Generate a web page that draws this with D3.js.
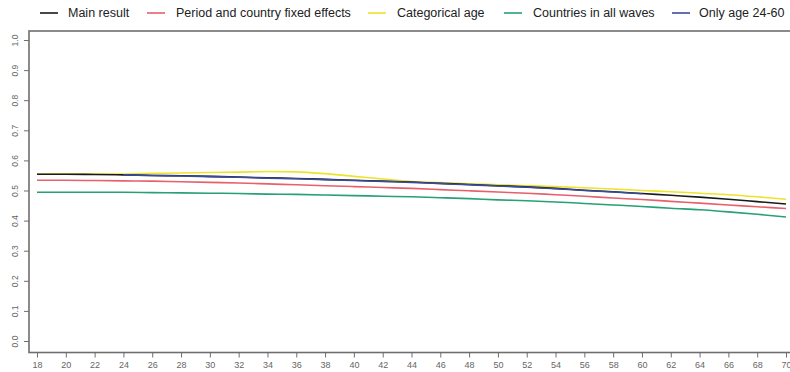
<!DOCTYPE html>
<html>
<head>
<meta charset="utf-8">
<script src="https://cdn.jsdelivr.net/npm/d3@7"></script>
<style>
  html, body { margin: 0; padding: 0; background: #fff; }
  svg { display: block; font-family: "Liberation Sans", Arial, sans-serif; }
</style>
</head>
<body>
<svg id="chart" width="790" height="372"></svg>
<script>
// Predicted probability by age under alternative specifications
const ages = [18, 20, 22, 24, 26, 28, 30, 32, 34, 36, 38, 40, 42, 44, 46, 48, 50, 52, 54, 56, 58, 60, 62, 64, 66, 68, 70];

const mainResult = [0.554, 0.554, 0.553, 0.552, 0.550, 0.549, 0.547, 0.545, 0.542, 0.540, 0.537, 0.534, 0.531, 0.528,
                    0.524, 0.520, 0.516, 0.512, 0.507, 0.501, 0.496, 0.490, 0.484, 0.478, 0.471, 0.463, 0.455];
const periodCountryFE = [0.534, 0.534, 0.533, 0.532, 0.531, 0.529, 0.527, 0.525, 0.522, 0.519, 0.516, 0.513, 0.510, 0.507,
                         0.503, 0.499, 0.495, 0.491, 0.486, 0.481, 0.475, 0.470, 0.464, 0.458, 0.452, 0.446, 0.440];
const categoricalAge = [0.555, 0.555, 0.555, 0.555, 0.557, 0.558, 0.560, 0.561, 0.563, 0.562, 0.556, 0.547, 0.538, 0.530,
                        0.526, 0.522, 0.519, 0.516, 0.513, 0.509, 0.505, 0.500, 0.496, 0.491, 0.486, 0.479, 0.471];
const allWaves = [0.494, 0.494, 0.494, 0.494, 0.493, 0.492, 0.491, 0.490, 0.488, 0.487, 0.485, 0.483, 0.481, 0.479,
                  0.476, 0.473, 0.469, 0.466, 0.462, 0.457, 0.452, 0.447, 0.441, 0.436, 0.429, 0.421, 0.412];
const ages2460 = [24, 26, 28, 30, 32, 34, 36, 38, 40, 42, 44, 46, 48, 50, 52, 54, 56, 58, 60];
const only2460 = [0.552, 0.550, 0.548, 0.546, 0.544, 0.541, 0.539, 0.536, 0.533, 0.530, 0.527, 0.523, 0.519, 0.515,
                  0.511, 0.506, 0.500, 0.495, 0.489];

const xTicks = d3.range(18, 71, 2);
const yTicks = [0, 0.1, 0.2, 0.3, 0.4, 0.5, 0.6, 0.7, 0.8, 0.9, 1.0];

const series = [
  { name: "Categorical age", x: ages, y: categoricalAge, color: "#ece42a" },
  { name: "Main result", x: ages, y: mainResult, color: "#1a1a1a" },
  { name: "Period and country fixed effects", x: ages, y: periodCountryFE, color: "#e8606a" },
  { name: "Countries in all waves", x: ages, y: allWaves, color: "#27a074" },
  { name: "Only age 24-60", x: ages2460, y: only2460, color: "#3a4a9c" }
];

const legendOrder = [
  { name: "Main result", color: "#1a1a1a", lx: 40, tx: 68 },
  { name: "Period and country fixed effects", color: "#e8606a", lx: 147, tx: 176 },
  { name: "Categorical age", color: "#ece42a", lx: 368, tx: 397 },
  { name: "Countries in all waves", color: "#27a074", lx: 504, tx: 533 },
  { name: "Only age 24-60", color: "#3a4a9c", lx: 672, tx: 699 }
];

const svg = d3.select("#chart");
const box = { left: 29, top: 31, bottom: 352.5, right: 796 };

const x = d3.scaleLinear().domain([18, 70]).range([37, 786]);
const y = d3.scaleLinear().domain([0, 1]).range([341, 40]);

// plot frame
svg.append("rect")
  .attr("x", box.left).attr("y", box.top)
  .attr("width", box.right - box.left).attr("height", box.bottom - box.top)
  .attr("fill", "none").attr("stroke", "#6e6e6e").attr("stroke-width", 1.6);

// y axis
const yAxis = svg.append("g").attr("transform", `translate(${box.left},0)`)
  .call(d3.axisLeft(y).tickValues(yTicks).tickFormat(d3.format(".1f")).tickSize(5).tickPadding(0));
yAxis.select(".domain").remove();
yAxis.selectAll(".tick line").attr("stroke", "#6e6e6e").attr("stroke-width", 1);
yAxis.selectAll(".tick text")
  .attr("x", 0).attr("dy", null).attr("text-anchor", "middle")
  .attr("transform", "translate(-14,0) rotate(-90)")
  .attr("dy", "0.35em")
  .attr("fill", "#666").attr("font-size", 8.5).attr("font-family", "Liberation Sans, Arial, sans-serif");

// x axis
const xAxis = svg.append("g").attr("transform", `translate(0,${box.bottom})`)
  .call(d3.axisBottom(x).tickValues(xTicks).tickFormat(d3.format("d")).tickSize(5).tickPadding(4));
xAxis.select(".domain").remove();
xAxis.selectAll(".tick line").attr("stroke", "#6e6e6e").attr("stroke-width", 1);
xAxis.selectAll(".tick text")
  .attr("fill", "#666").attr("font-size", 9).attr("font-family", "Liberation Sans, Arial, sans-serif");

// series lines
const line = d3.line().curve(d3.curveMonotoneX);
svg.append("g").selectAll("path").data(series).join("path")
  .attr("d", s => line(s.x.map((a, i) => [x(a), y(s.y[i])])))
  .attr("fill", "none")
  .attr("stroke", s => s.color)
  .attr("stroke-width", 1.6);

// legend
const leg = svg.append("g");
legendOrder.forEach(d => {
  leg.append("line")
    .attr("x1", d.lx).attr("x2", d.lx + 18).attr("y1", 13).attr("y2", 13)
    .attr("stroke", d.color).attr("stroke-width", 1.6);
  leg.append("text")
    .attr("x", d.tx).attr("y", 13).attr("dy", "0.35em")
    .attr("font-size", 12.5).attr("fill", "#222")
    .text(d.name);
});
</script>
</body>
</html>
